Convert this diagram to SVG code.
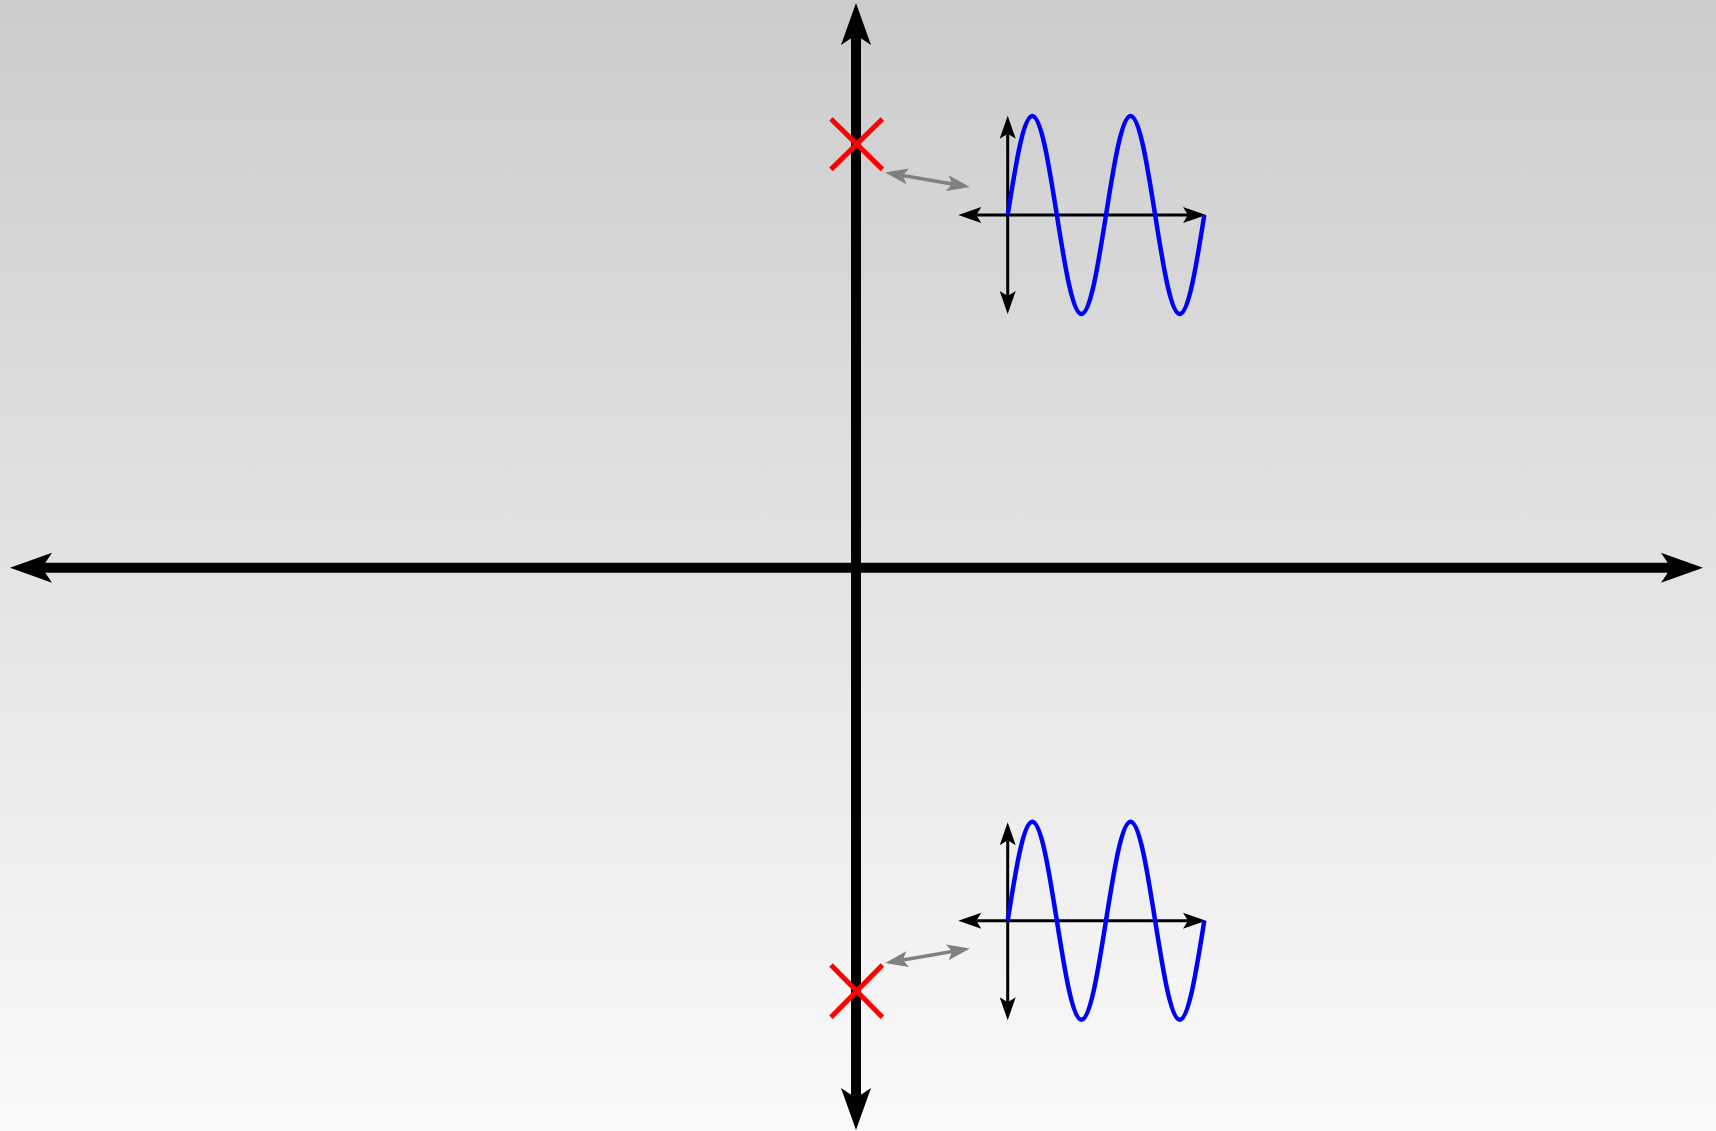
<svg xmlns="http://www.w3.org/2000/svg" width="1716" height="1131" viewBox="0 0 1716 1131">
  <defs>
    <linearGradient id="bg" x1="0" y1="0" x2="0" y2="1">
      <stop offset="0" stop-color="#cccccc"/>
      <stop offset="1" stop-color="#fafafa"/>
    </linearGradient>
    <marker id="bigArrow" markerUnits="userSpaceOnUse" markerWidth="44" markerHeight="32" viewBox="0 -16 44 32" refX="10" refY="0" orient="auto-start-reverse" overflow="visible">
      <path d="M0,-15 L42,0 L0,15 L10,0 Z" fill="#000"/>
    </marker>
    <marker id="smallArrow" markerUnits="userSpaceOnUse" markerWidth="24" markerHeight="18" viewBox="0 -9 24 18" refX="5" refY="0" orient="auto-start-reverse" overflow="visible">
      <path d="M0,-8 L23,0 L0,8 L5,0 Z" fill="#000"/>
    </marker>
    <marker id="grayArrow" markerUnits="userSpaceOnUse" markerWidth="24" markerHeight="18" viewBox="0 -9 24 18" refX="5" refY="0" orient="auto-start-reverse" overflow="visible">
      <path d="M0,-8 L23,0 L0,8 L5,0 Z" fill="#808080"/>
    </marker>
    <path id="wave" d="M0,0 c 8.01,-50.72 15.68,-99 24.58,-99 s 16.56,48.28 24.57,99 s 15.68,99 24.58,99 s 16.56,-48.28 24.57,-99 s 15.68,-99 24.58,-99 s 16.56,48.28 24.57,99 s 15.68,99 24.58,99 s 16.56,-48.28 24.57,-99"/>
  </defs>
  <style>
    .bigaxis { stroke: #000; stroke-width: 10; fill: none; marker-start: url(#bigArrow); marker-end: url(#bigArrow); }
    .smallaxis { stroke: #000; stroke-width: 3; fill: none; marker-start: url(#smallArrow); marker-end: url(#smallArrow); }
    .link { stroke: #808080; stroke-width: 3.5; fill: none; marker-start: url(#grayArrow); marker-end: url(#grayArrow); }
    .sine { stroke: #0000ff; stroke-width: 4.5; fill: none; stroke-linejoin: round; }
    .pole { stroke: #ff0000; stroke-width: 5; fill: none; }
  </style>
  <rect x="0" y="0" width="1716" height="1131" fill="url(#bg)"/>

  <g id="axes">
    <line class="bigaxis" x1="42" y1="567.7" x2="1671" y2="567.7"/>
    <line class="bigaxis" x1="856" y1="35" x2="856" y2="1098"/>
  </g>

  <g id="pole-top">
    <line class="pole" x1="831" y1="119" x2="882.4" y2="169.4"/>
    <line class="pole" x1="882.4" y1="119" x2="831" y2="169.4"/>
  </g>

  <g id="pole-bottom">
    <line class="pole" x1="831" y1="965" x2="882.4" y2="1017.2"/>
    <line class="pole" x1="882.4" y1="965" x2="831" y2="1017.2"/>
  </g>

  <g id="plot-top">
    <line class="smallaxis" x1="976.3" y1="215" x2="1188" y2="215"/>
    <line class="smallaxis" x1="1007.7" y1="133.7" x2="1007.7" y2="296"/>
    <use href="#wave" class="sine" x="1007.7" y="215"/>
  </g>

  <g id="plot-bottom">
    <line class="smallaxis" x1="976.3" y1="920.7" x2="1188" y2="920.7"/>
    <line class="smallaxis" x1="1007.7" y1="840.3" x2="1007.7" y2="1002.3"/>
    <use href="#wave" class="sine" x="1007.7" y="920.7"/>
  </g>

  <g id="connectors">
    <line class="link" x1="902.8" y1="175.5" x2="952.2" y2="183.9"/>
    <line class="link" x1="902.8" y1="959.9" x2="952.2" y2="951.5"/>
  </g>
</svg>
